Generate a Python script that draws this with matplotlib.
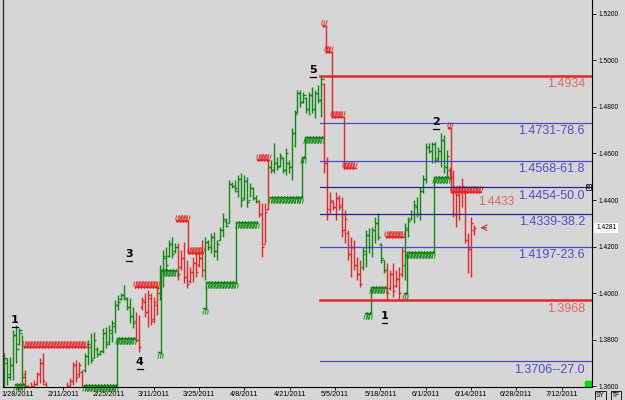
import matplotlib
matplotlib.use("Agg")
import matplotlib.pyplot as plt
import matplotlib.transforms as mtransforms
from matplotlib.markers import MarkerStyle
from matplotlib.patches import Rectangle
import numpy as np

# daily bars
highs = [1.3742, 1.3721, 1.3725, 1.3841, 1.3862, 1.3850, 1.3820, 1.3669, 1.3605, 1.3617,
         1.3626, 1.3660, 1.3721, 1.3742, 1.3617, 1.3574, 1.3562, 1.3570, 1.3574, 1.3562,
         1.3583, 1.3617, 1.3635, 1.3703, 1.3712, 1.3703, 1.3669, 1.3742, 1.3798, 1.3828,
         1.3832, 1.3768, 1.3755, 1.3850, 1.3854, 1.3862, 1.3884, 1.3970, 1.3992, 1.4000,
         1.4035, 1.3983, 1.3979, 1.3940, 1.3918, 1.3905, 1.3983, 1.4000, 1.4013, 1.4000,
         1.3983, 1.4035, 1.4121, 1.4185, 1.4198, 1.4228, 1.4241, 1.4215, 1.4215, 1.4185,
         1.4219, 1.4142, 1.4112, 1.4155, 1.4172, 1.4172, 1.4228, 1.4241, 1.4228, 1.4258,
         1.4262, 1.4228, 1.4284, 1.4344, 1.4323, 1.4486, 1.4477, 1.4486, 1.4508, 1.4516,
         1.4508, 1.4499, 1.4473, 1.4456, 1.4422, 1.4400, 1.4387, 1.4387, 1.4572, 1.4572,
         1.4645, 1.4585, 1.4602, 1.4585, 1.4624, 1.4572, 1.4710, 1.4787, 1.4873, 1.4873,
         1.4864, 1.4843, 1.4864, 1.4886, 1.4873, 1.4895, 1.4934, 1.4903, 1.4585, 1.4434,
         1.4400, 1.4434, 1.4422, 1.4413, 1.4357, 1.4271, 1.4241, 1.4228, 1.4155, 1.4142,
         1.4198, 1.4271, 1.4280, 1.4284, 1.4327, 1.4344, 1.4215, 1.4142, 1.4129, 1.4099,
         1.4129, 1.4099, 1.4112, 1.4198, 1.4301, 1.4327, 1.4357, 1.4400, 1.4413, 1.4456,
         1.4508, 1.4645, 1.4645, 1.4649, 1.4649, 1.4628, 1.4688, 1.4680, 1.4615, 1.4542,
         1.4529, 1.4456, 1.4465, 1.4495, 1.4443, 1.4258, 1.4327, 1.4292]
lows = [1.3583, 1.3605, 1.3626, 1.3626, 1.3699, 1.3776, 1.3613, 1.3583, 1.3549, 1.3574,
        1.3583, 1.3605, 1.3613, 1.3605, 1.3574, 1.3519, 1.3497, 1.3506, 1.3519, 1.3506,
        1.3531, 1.3574, 1.3583, 1.3605, 1.3617, 1.3639, 1.3583, 1.3660, 1.3691, 1.3699,
        1.3721, 1.3725, 1.3734, 1.3742, 1.3764, 1.3776, 1.3789, 1.3828, 1.3927, 1.3970,
        1.3970, 1.3927, 1.3871, 1.3850, 1.3789, 1.3746, 1.3927, 1.3897, 1.3854, 1.3862,
        1.3871, 1.3905, 1.3970, 1.4026, 1.4099, 1.4155, 1.4151, 1.4172, 1.4056, 1.4099,
        1.4043, 1.4022, 1.4043, 1.4047, 1.4069, 1.4112, 1.4069, 1.4056, 1.4185, 1.4172,
        1.4155, 1.4142, 1.4228, 1.4241, 1.4284, 1.4301, 1.4452, 1.4434, 1.4413, 1.4370,
        1.4400, 1.4370, 1.4413, 1.4400, 1.4387, 1.4327, 1.4155, 1.4215, 1.4357, 1.4516,
        1.4516, 1.4529, 1.4542, 1.4516, 1.4508, 1.4516, 1.4486, 1.4628, 1.4774, 1.4800,
        1.4817, 1.4774, 1.4766, 1.4774, 1.4753, 1.4817, 1.4757, 1.4516, 1.4314, 1.4344,
        1.4357, 1.4314, 1.4357, 1.4241, 1.4215, 1.4142, 1.4069, 1.4099, 1.4056, 1.4026,
        1.4099, 1.4112, 1.4172, 1.4155, 1.4215, 1.4228, 1.4129, 1.4086, 1.3970, 1.4013,
        1.3983, 1.4026, 1.3968, 1.4069, 1.4056, 1.4241, 1.4314, 1.4301, 1.4327, 1.4314,
        1.4430, 1.4473, 1.4602, 1.4559, 1.4559, 1.4563, 1.4542, 1.4516, 1.4499, 1.4486,
        1.4327, 1.4284, 1.4314, 1.4370, 1.4215, 1.4086, 1.4069, 1.4250]
opens = [1.3620, 1.3700, 1.3650, 1.3690, 1.3820, 1.3780, 1.3830, 1.3650, 1.3600, 1.3580,
         1.3600, 1.3610, 1.3650, 1.3700, 1.3610, 1.3560, 1.3530, 1.3520, 1.3550, 1.3540,
         1.3530, 1.3570, 1.3600, 1.3620, 1.3690, 1.3650, 1.3660, 1.3670, 1.3730, 1.3770,
         1.3720, 1.3760, 1.3740, 1.3750, 1.3830, 1.3790, 1.3830, 1.3860, 1.3950, 1.3975,
         1.3990, 1.3975, 1.3940, 1.3900, 1.3880, 1.3800, 1.3940, 1.3960, 1.3920, 1.3980,
         1.3890, 1.3950, 1.4000, 1.4100, 1.4150, 1.4160, 1.4210, 1.4180, 1.4200, 1.4110,
         1.4150, 1.4070, 1.4050, 1.4090, 1.4130, 1.4120, 1.4150, 1.4100, 1.4220, 1.4200,
         1.4240, 1.4180, 1.4230, 1.4270, 1.4310, 1.4300, 1.4470, 1.4460, 1.4440, 1.4490,
         1.4410, 1.4480, 1.4400, 1.4450, 1.4410, 1.4395, 1.4340, 1.4210, 1.4360, 1.4540,
         1.4530, 1.4560, 1.4545, 1.4580, 1.4530, 1.4560, 1.4540, 1.4690, 1.4780, 1.4860,
         1.4820, 1.4840, 1.4790, 1.4850, 1.4790, 1.4860, 1.4830, 1.4900, 1.4560, 1.4360,
         1.4390, 1.4370, 1.4410, 1.4380, 1.4270, 1.4260, 1.4170, 1.4200, 1.4120, 1.4080,
         1.4110, 1.4170, 1.4250, 1.4200, 1.4270, 1.4300, 1.4210, 1.4140, 1.4100, 1.4020,
         1.4080, 1.4030, 1.4060, 1.4080, 1.4120, 1.4270, 1.4320, 1.4340, 1.4370, 1.4340,
         1.4440, 1.4490, 1.4630, 1.4610, 1.4640, 1.4580, 1.4610, 1.4660, 1.4540, 1.4530,
         1.4500, 1.4340, 1.4420, 1.4440, 1.4440, 1.4230, 1.4190, 1.4270]
closes = [1.3720, 1.3640, 1.3690, 1.3820, 1.3760, 1.3840, 1.3640, 1.3600, 1.3570, 1.3600,
          1.3610, 1.3650, 1.3700, 1.3620, 1.3580, 1.3530, 1.3520, 1.3550, 1.3540, 1.3530,
          1.3570, 1.3600, 1.3620, 1.3690, 1.3640, 1.3690, 1.3600, 1.3730, 1.3780, 1.3710,
          1.3800, 1.3740, 1.3750, 1.3830, 1.3780, 1.3840, 1.3870, 1.3950, 1.3960, 1.3990,
          1.3980, 1.3940, 1.3900, 1.3870, 1.3800, 1.3770, 1.3970, 1.3920, 1.3990, 1.3880,
          1.3960, 1.4020, 1.4100, 1.4160, 1.4120, 1.4210, 1.4170, 1.4200, 1.4080, 1.4150,
          1.4070, 1.4040, 1.4090, 1.4130, 1.4090, 1.4150, 1.4100, 1.4220, 1.4200, 1.4240,
          1.4180, 1.4210, 1.4270, 1.4320, 1.4290, 1.4470, 1.4460, 1.4450, 1.4490, 1.4400,
          1.4480, 1.4390, 1.4450, 1.4410, 1.4395, 1.4340, 1.4200, 1.4350, 1.4540, 1.4530,
          1.4560, 1.4540, 1.4590, 1.4530, 1.4600, 1.4540, 1.4690, 1.4770, 1.4860, 1.4820,
          1.4850, 1.4790, 1.4850, 1.4790, 1.4860, 1.4830, 1.4920, 1.4560, 1.4340, 1.4400,
          1.4370, 1.4410, 1.4370, 1.4270, 1.4320, 1.4170, 1.4200, 1.4120, 1.4080, 1.4040,
          1.4180, 1.4250, 1.4200, 1.4270, 1.4300, 1.4240, 1.4150, 1.4100, 1.4000, 1.4080,
          1.4010, 1.4060, 1.4000, 1.4180, 1.4280, 1.4310, 1.4340, 1.4380, 1.4340, 1.4440,
          1.4490, 1.4630, 1.4610, 1.4640, 1.4570, 1.4610, 1.4660, 1.4540, 1.4590, 1.4500,
          1.4340, 1.4420, 1.4440, 1.4460, 1.4230, 1.4190, 1.4300, 1.4281]

# trend state (bar colour) changes
trend_start = [0, 7, 27, 44, 52, 58, 67, 85, 89, 107, 120, 128, 134, 149]
trend_color = ["g", "r", "g", "r", "g", "r", "g", "r", "g", "r", "g", "r", "g", "r"]

# trailing stops: first bar, last bar, level
red_stop_start = [7, 44, 58, 62, 85, 107, 108, 110, 114, 128, 149, 150]
red_stop_end = [27, 51, 61, 66, 88, 107, 109, 113, 117, 133, 149, 159]
red_stop_level = [1.3768, 1.4026, 1.4310, 1.4172, 1.4572, 1.5150, 1.5036, 1.4757,
                  1.4538, 1.4241, 1.4710, 1.4433]
green_stop_start = [4, 27, 38, 52, 53, 67, 68, 78, 89, 100, 101, 121, 123, 134, 135, 144]
green_stop_end = [6, 37, 43, 52, 57, 67, 77, 84, 99, 100, 106, 122, 127, 134, 143, 148]
green_stop_level = [1.3610, 1.3605, 1.3807, 1.3746, 1.4099, 1.3936, 1.4047, 1.4306,
                    1.4413, 1.4585, 1.4671, 1.3914, 1.4026, 1.4000, 1.4176, 1.4499]

# fibonacci levels from the 1.4934 top to the 1.3968 low
fib_levels = [1.4934, 1.4731, 1.4568, 1.4454, 1.4339, 1.4197, 1.3968, 1.3706]
fib_labels = ["1.4934", "1.4731-78.6", "1.4568-61.8", "1.4454-50.0",
              "1.4339-38.2", "1.4197-23.6", "1.3968", "1.3706--27.0"]
fib_start_bar = 106

# elliott wave counts
wave_text = ["1", "3", "4", "5", "2", "1"]
wave_bar = [3.5, 41.7, 45.3, 103.2, 144.3, 127.0]
wave_price = [1.3884, 1.4168, 1.3703, 1.4959, 1.4736, 1.3901]

date_labels = ["1/28/2011", "2/11/2011", "2/25/2011", "3/11/2011", "3/25/2011",
               "4/8/2011", "4/21/2011", "5/5/2011", "5/18/2011", "6/1/2011",
               "6/14/2011", "6/28/2011", "7/12/2011"]

last_price = 1.4281
stop_price = 1.4433

BG = "#d6d6d6"
GREEN = "#0f870f"
RED = "#e52626"
BLUE = "#4848c8"
NAVY = "#23238f"
NUM_FONT = "Liberation Sans"

fig = plt.figure(figsize=(6.25, 4), dpi=100, facecolor=BG)
ax = fig.add_axes([3 / 625, 13 / 400, 589 / 625, 387 / 400], facecolor=BG)

n = len(highs)
x = np.arange(n)
bar_colors = []
for k, s in enumerate(trend_start):
    e = trend_start[k + 1] if k + 1 < len(trend_start) else n
    bar_colors += [GREEN if trend_color[k] == "g" else RED] * (e - s)

ax.vlines(x, lows, highs, colors=bar_colors, lw=1.0)
ax.hlines(opens, x - 0.7, x, colors=bar_colors, lw=1.0)
ax.hlines(closes, x, x + 0.7, colors=bar_colors, lw=1.0)

red_mark = MarkerStyle(r"$\psi$", transform=mtransforms.Affine2D().translate(0, 0.3))
green_mark = MarkerStyle(r"$\psi$", transform=mtransforms.Affine2D().rotate_deg(180).translate(0, -0.3))


def draw_stops(starts, ends, levels, color, mark):
    for k in range(len(starts)):
        s, e, lv = starts[k], ends[k], levels[k]
        ax.plot([s - 0.5, e + 0.5], [lv, lv], color=color, lw=1.0, clip_on=False)
        bars = np.arange(s, e + 1)
        ax.plot(bars, [lv] * len(bars), ls="none", marker=mark, ms=5.5,
                mew=0, color=color, clip_on=False)
        if k + 1 < len(starts) and starts[k + 1] == e + 1:
            ax.plot([e + 0.5, e + 0.5], [lv, levels[k + 1]], color=color, lw=1.0)


draw_stops(red_stop_start, red_stop_end, red_stop_level, RED, red_mark)
draw_stops(green_stop_start, green_stop_end, green_stop_level, GREEN, green_mark)

xmax = 196.5
for lv, lab in zip(fib_levels, fib_labels):
    is_red = lab.count("-") == 0
    if is_red:
        col, lw, tcol = RED, 1.8, "#e06464"
    elif lab.endswith("50.0") or lab.endswith("38.2"):
        col, lw, tcol = NAVY, 0.9, "#4b4bd2"
    else:
        col, lw, tcol = BLUE, 0.9, "#4b4bd2"
    ax.plot([fib_start_bar - 0.5, xmax], [lv, lv], color=col, lw=lw)
    ax.annotate(lab, xy=(0.988, lv), xycoords=("axes fraction", "data"),
                xytext=(0, -1.5), textcoords="offset points", ha="right", va="top",
                color=tcol, fontsize=9, family=NUM_FONT)

ax.annotate(f"{stop_price:.4f}", xy=(n + 0.3, stop_price), xytext=(0, -2.5),
            textcoords="offset points", ha="left", va="top", color="#e06464",
            fontsize=8.5, family=NUM_FONT)
ax.annotate("", xy=(n + 0.2, last_price), xytext=(n + 4.2, last_price),
            arrowprops=dict(arrowstyle="->", color=RED, lw=0.8))

# wave numbers, underlined
under = ax.transData + mtransforms.ScaledTranslation(0, -5 / 72, fig.dpi_scale_trans)
for t, b, p in zip(wave_text, wave_bar, wave_price):
    ax.text(b, p, t, ha="center", va="center", fontsize=8, color="black",
            fontweight="bold")
    ax.plot([b - 0.9, b + 0.9], [p, p], color="black", lw=0.9, transform=under)

ax.set_xlim(-0.5, xmax)
ax.set_ylim(1.3596, 1.5260)

date_pos = [4.52 + 15.15 * k for k in range(len(date_labels))]
ax.set_xticks(date_pos)
ax.set_xticklabels(date_labels, family=NUM_FONT)
ax.tick_params(axis="x", length=2, width=0.6, pad=1.2, labelsize=5.3)

ax.yaxis.tick_right()
ax.set_yticks(np.arange(1.36, 1.5201, 0.02))
ax.set_yticklabels([f"{v:.4f}" for v in np.arange(1.36, 1.5201, 0.02)], family=NUM_FONT)
ax.tick_params(axis="y", length=3, width=0.6, pad=2, labelsize=4.8)

ax.spines["top"].set_visible(False)
ax.spines["left"].set_color("#303030")
ax.spines["left"].set_linewidth(1.0)
ax.spines["right"].set_linewidth(0.8)
ax.spines["bottom"].set_linewidth(0.8)

blend = mtransforms.blended_transform_factory(ax.transAxes, ax.transData)
ax.text(1.007, last_price, f"{last_price:.4f}", transform=blend, ha="left", va="center",
        fontsize=4.8, family=NUM_FONT, clip_on=False,
        bbox=dict(fc="white", ec="none", pad=1.2))
ax.text(0.994, fib_levels[3], "B", transform=blend, ha="center", va="center",
        fontsize=3.5, clip_on=False, bbox=dict(fc="none", ec="black", lw=0.5, pad=0.4))
ax.add_patch(Rectangle((0.988, 0), 0.011, 0.016, transform=ax.transAxes,
                       color="#00e000", clip_on=False))

fig.text(596 / 625, 3 / 400, "SY", fontsize=4.8, family=NUM_FONT,
         bbox=dict(fc="none", ec="black", lw=0.6, pad=0.8))
fig.text(612 / 625, 3 / 400, "TF", fontsize=4.8, family=NUM_FONT,
         bbox=dict(fc="none", ec="black", lw=0.6, pad=0.8))

fig.savefig("out.png", dpi=100, facecolor=BG)
